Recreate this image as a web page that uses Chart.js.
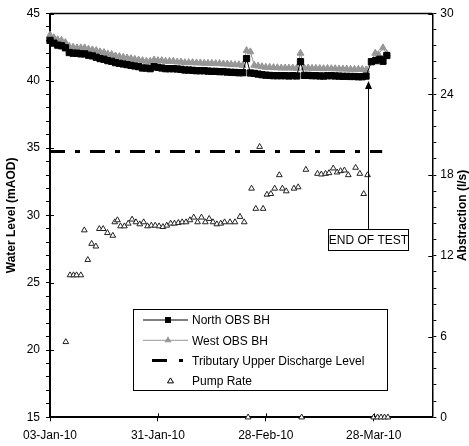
<!DOCTYPE html>
<html>
<head>
<meta charset="utf-8">
<script src="https://cdn.jsdelivr.net/npm/chart.js@4.4.0/dist/chart.umd.min.js"></script>
<style>
  html, body { margin: 0; padding: 0; background: #fff; }
</style>
</head>
<body>
<canvas id="chart" width="469" height="446"></canvas>
<script>
// x values are days since 03-Jan-10
const xTickDays = [0, 28, 56, 84];
const xTickLabels = ['03-Jan-10', '31-Jan-10', '28-Feb-10', '28-Mar-10'];
const levelLabels = [15, 20, 25, 30, 35, 40, 45];
const rateLabels = [0, 6, 12, 18, 24, 30];

// daily readings, day 0 .. day 82
const northLevel = [
  43.0, 42.8, 42.65, 42.6, 42.45, 42.1, 42.05, 42.05, 42.0, 42.0,
  41.9, 41.85, 41.75, 41.65, 41.6, 41.5, 41.45, 41.35, 41.3, 41.25,
  41.2, 41.15, 41.1, 41.05, 40.95, 40.95, 40.9, 41.05, 41.0, 40.95,
  40.9, 40.9, 40.9, 40.88, 40.85, 40.8, 40.8, 40.78, 40.75, 40.75,
  40.75, 40.72, 40.7, 40.7, 40.68, 40.68, 40.65, 40.63, 40.62, 40.6,
  40.6, 41.65, 40.58, 40.55, 40.5, 40.45, 40.42, 40.4, 40.38, 40.38,
  40.38, 40.38, 40.36, 40.38, 40.36, 41.42, 40.4, 40.4, 40.38, 40.38,
  40.36, 40.35, 40.38, 40.38, 40.36, 40.35, 40.33, 40.33, 40.32, 40.32,
  40.3, 40.3, 40.35
];
const westLevel = [
  43.4, 43.2, 43.05, 43.0, 42.85, 42.55, 42.5, 42.45, 42.45, 42.45,
  42.35, 42.3, 42.25, 42.15, 42.1, 42.0, 41.95, 41.85, 41.8, 41.75,
  41.7, 41.65, 41.6, 41.55, 41.5, 41.45, 41.45, 41.55, 41.5, 41.5,
  41.45, 41.45, 41.45, 41.4, 41.4, 41.35, 41.35, 41.35, 41.33, 41.33,
  41.3, 41.3, 41.3, 41.28, 41.28, 41.25, 41.25, 41.22, 41.2, 41.2,
  41.15, 42.25, 42.15, 41.15, 41.1, 41.05, 41.0, 41.0, 40.98, 40.97,
  40.95, 40.95, 40.95, 40.95, 40.93, 42.05, 40.95, 40.95, 40.93, 40.93,
  40.92, 40.9, 40.92, 40.9, 40.9, 40.88, 40.88, 40.87, 40.85, 40.85,
  40.85, 40.85, 40.8
];

// recovery readings after the pump stopped
const northRecoveryDays = [83.4, 84.5, 85.6, 86.4, 87.4];
const northRecovery = [41.42, 41.5, 41.6, 41.45, 41.88];
const westRecoveryDays = [84.4, 85.2, 86.4, 87.4];
const westRecovery = [42.05, 41.95, 42.45, 42.0];

const dischargeDays = [0, 86.2];
const dischargeLevel = 34.75;

const pumpDays = [
  4.1, 5.2, 6.1, 6.9, 8.0, 8.9, 9.8, 10.8, 11.9, 12.8,
  13.8, 14.9, 16.3, 16.8, 17.5, 18.3, 19.3, 20.3, 21.3, 22.3,
  23.3, 24.3, 25.3, 26.3, 27.3, 28.3, 29.3, 30.3, 31.3, 32.3,
  33.3, 34.3, 35.3, 36.3, 37.3, 38.3, 39.3, 40.3, 41.3, 42.3,
  43.3, 44.3, 45.3, 46.7, 48.0, 49.3, 50.4, 51.4, 52.3, 53.4,
  54.4, 55.3, 56.3, 57.3, 58.3, 59.5, 60.3, 61.3, 63.3, 64.4,
  65.3, 66.4, 69.4, 70.4, 71.5, 72.4, 73.5, 74.5, 75.4, 76.4,
  77.4, 79.3, 80.4, 81.4, 82.4, 84.0, 85.0, 85.9, 86.8, 87.7
];
const pumpRate = [
  5.6, 10.56, 10.56, 10.56, 10.56, 13.9, 11.7, 12.9, 12.7, 14.0,
  14.0, 13.7, 13.5, 14.5, 14.65, 14.2, 14.2, 14.4, 14.7, 14.5,
  14.35, 14.5, 14.2, 14.25, 14.25, 14.2, 14.15, 14.25, 14.4, 14.4,
  14.45, 14.5, 14.5, 14.65, 14.85, 14.5, 14.85, 14.5, 14.75, 14.5,
  14.35, 14.4, 14.5, 14.5, 14.5, 14.9, 14.5, 0, 17.0, 15.5,
  20.1, 15.5, 16.55, 16.6, 17.0, 18.0, 17.0, 16.8, 17.0, 17.1,
  0, 18.4, 18.1, 18.05, 18.1, 18.15, 18.5, 18.2, 18.3, 18.35,
  18.0, 18.55, 18.1, 16.6, 18.0, 0, 0, 0, 0, 0
];

const endDay = 82.5;
const endLevel = 40.35;
const endBoxLevel = 29.0;
const endText = 'END OF TEST';

const FONT = 'Liberation Sans, Arial, sans-serif';

function toPoints(days, values) {
  return days.map((d, i) => ({ x: d, y: values[i] }));
}
const dailyDays = northLevel.map((_, i) => i);
const northData = toPoints(dailyDays, northLevel).concat(toPoints(northRecoveryDays, northRecovery));
const westData = toPoints(dailyDays, westLevel).concat(toPoints(westRecoveryDays, westRecovery));
const dischargeData = dischargeDays.map(d => ({ x: d, y: dischargeLevel }));
const pumpData = toPoints(pumpDays, pumpRate);

const levelTicks = [];
for (let v = 15; v <= 45; v++) levelTicks.push(v);
const rateTicks = [];
for (let i = 0; i <= 25; i++) rateTicks.push(Math.round(i * 12) / 10);

const legendItems = [
  { label: 'North OBS BH', kind: 'north' },
  { label: 'West OBS BH', kind: 'west' },
  { label: 'Tributary Upper Discharge Level', kind: 'dash' },
  { label: 'Pump Rate', kind: 'pump' }
];

const decorations = {
  id: 'decorations',
  afterDraw(chart) {
    const { ctx, chartArea: a, scales } = chart;
    ctx.save();

    // top frame
    ctx.strokeStyle = '#000';
    ctx.lineWidth = 1.5;
    ctx.beginPath();
    ctx.moveTo(a.left, a.top);
    ctx.lineTo(a.right, a.top);
    ctx.stroke();

    // major ticks also cross into the plot
    ctx.lineWidth = 1;
    ctx.beginPath();
    xTickDays.forEach(d => {
      const px = Math.round(scales.x.getPixelForValue(d)) + 0.5;
      ctx.moveTo(px, a.bottom);
      ctx.lineTo(px, a.bottom - 4);
    });
    levelLabels.forEach(v => {
      const py = Math.round(scales.y.getPixelForValue(v)) + 0.5;
      ctx.moveTo(a.left, py);
      ctx.lineTo(a.left + 4, py);
    });
    rateLabels.forEach(v => {
      const py = Math.round(scales.y2.getPixelForValue(v)) + 0.5;
      ctx.moveTo(a.right, py);
      ctx.lineTo(a.right - 4, py);
    });
    ctx.stroke();

    // end of test arrow and box
    const ax = Math.round(scales.x.getPixelForValue(endDay)) + 0.5;
    const tipY = scales.y.getPixelForValue(endLevel) + 5;
    const boxTop = scales.y.getPixelForValue(endBoxLevel);
    ctx.lineWidth = 1;
    ctx.beginPath();
    ctx.moveTo(ax, boxTop);
    ctx.lineTo(ax, tipY + 6);
    ctx.stroke();
    ctx.fillStyle = '#000';
    ctx.beginPath();
    ctx.moveTo(ax, tipY);
    ctx.lineTo(ax - 3.5, tipY + 8);
    ctx.lineTo(ax + 3.5, tipY + 8);
    ctx.closePath();
    ctx.fill();
    ctx.font = '12px ' + FONT;
    const bw = 80, bh = 21;
    const bx = Math.round(ax - bw / 2 - 1) + 0.5;
    const by = Math.round(boxTop) + 0.5;
    ctx.fillStyle = '#fff';
    ctx.fillRect(bx, by, bw, bh);
    ctx.strokeRect(bx, by, bw, bh);
    ctx.fillStyle = '#000';
    ctx.textAlign = 'center';
    ctx.textBaseline = 'middle';
    ctx.fillText(endText, bx + bw / 2, by + bh / 2 + 1);

    // legend
    const lx = 133.5, ly = 309.5, lw = 254, lh = 81;
    ctx.fillStyle = '#fff';
    ctx.fillRect(lx, ly, lw, lh);
    ctx.strokeStyle = '#000';
    ctx.lineWidth = 1;
    ctx.strokeRect(lx, ly, lw, lh);
    ctx.textAlign = 'left';
    legendItems.forEach((it, i) => {
      const y = 320 + i * 20.3;
      const x0 = 143, x1 = 188, xc = 168;
      if (it.kind === 'north' || it.kind === 'west') {
        const col = it.kind === 'north' ? '#000' : '#969696';
        ctx.strokeStyle = col;
        ctx.lineWidth = 1;
        ctx.beginPath();
        ctx.moveTo(x0, y);
        ctx.lineTo(x1, y);
        ctx.stroke();
        ctx.fillStyle = col;
        if (it.kind === 'north') {
          ctx.fillRect(xc - 3, y - 3, 6, 6);
        } else {
          ctx.beginPath();
          ctx.moveTo(xc, y - 4);
          ctx.lineTo(xc + 3.5, y + 2);
          ctx.lineTo(xc - 3.5, y + 2);
          ctx.closePath();
          ctx.fill();
        }
      } else if (it.kind === 'dash') {
        ctx.strokeStyle = '#000';
        ctx.lineWidth = 3;
        ctx.beginPath();
        ctx.moveTo(152, y);
        ctx.lineTo(167, y);
        ctx.moveTo(179, y);
        ctx.lineTo(183, y);
        ctx.stroke();
      } else {
        ctx.strokeStyle = '#000';
        ctx.lineWidth = 1;
        ctx.fillStyle = '#fff';
        ctx.beginPath();
        ctx.moveTo(xc + 2.5, y - 3);
        ctx.lineTo(xc + 5.5, y + 2);
        ctx.lineTo(xc - 0.5, y + 2);
        ctx.closePath();
        ctx.fill();
        ctx.stroke();
      }
      ctx.fillStyle = '#000';
      ctx.font = '12px ' + FONT;
      ctx.fillText(it.label, 192, y + 1);
    });

    // axis titles
    ctx.font = 'bold 12px ' + FONT;
    ctx.textAlign = 'center';
    ctx.textBaseline = 'middle';
    const midY = (a.top + a.bottom) / 2;
    ctx.translate(12, midY);
    ctx.rotate(-Math.PI / 2);
    ctx.fillText('Water Level (mAOD)', 0, 0);
    ctx.setTransform(1, 0, 0, 1, 0, 0);
    ctx.translate(463, midY);
    ctx.rotate(-Math.PI / 2);
    ctx.fillText('Abstraction (l/s)', 0, 0);
    ctx.restore();
  }
};

const tickFont = { family: FONT, size: 12 };

new Chart(document.getElementById('chart'), {
  type: 'line',
  data: {
    datasets: [
      {
        label: 'North OBS BH', data: northData, yAxisID: 'y',
        borderColor: '#000', borderWidth: 1,
        pointStyle: 'rect', pointRadius: 4.4, pointBackgroundColor: '#000', pointBorderColor: '#000',
        clip: false
      },
      {
        label: 'West OBS BH', data: westData, yAxisID: 'y',
        borderColor: '#969696', borderWidth: 1,
        pointStyle: 'triangle', pointRadius: 4, pointBackgroundColor: '#969696', pointBorderColor: '#969696',
        clip: false
      },
      {
        label: 'Pump Rate', data: pumpData, yAxisID: 'y2', showLine: false,
        pointStyle: 'triangle', pointRadius: 3.3, pointBackgroundColor: '#fff',
        pointBorderColor: '#222', pointBorderWidth: 1,
        clip: false
      },
      {
        label: 'Tributary Upper Discharge Level', data: dischargeData, yAxisID: 'y',
        borderColor: '#000', borderWidth: 3, borderDash: [15, 10, 5, 10],
        pointRadius: 0
      }
    ]
  },
  options: {
    responsive: false,
    devicePixelRatio: 1,
    animation: false,
    layout: { padding: { top: 13.5, left: 0, right: 0, bottom: 0 } },
    plugins: { legend: { display: false }, tooltip: { enabled: false } },
    scales: {
      x: {
        type: 'linear', position: 'bottom', min: 0, max: 99.2,
        afterBuildTicks: s => { s.ticks = xTickDays.map(v => ({ value: v })); },
        afterFit: s => { s.height = 28.7; },
        ticks: {
          autoSkip: false, maxRotation: 0, color: '#000', font: tickFont, padding: 7,
          callback: v => xTickLabels[xTickDays.indexOf(v)]
        },
        grid: { drawOnChartArea: false, tickLength: 4, color: '#000' },
        border: { color: '#000', width: 2 }
      },
      y: {
        type: 'linear', position: 'left', min: 15, max: 45,
        afterBuildTicks: s => { s.ticks = levelTicks.map(v => ({ value: v })); },
        afterFit: s => { s.width = 50; },
        ticks: {
          autoSkip: false, color: '#000', font: tickFont, padding: 6,
          callback: v => levelLabels.includes(v) ? String(v) : ''
        },
        grid: { drawOnChartArea: false, tickLength: 4, color: '#000' },
        border: { color: '#000', width: 2 }
      },
      y2: {
        type: 'linear', position: 'right', min: 0, max: 30,
        afterBuildTicks: s => { s.ticks = rateTicks.map(v => ({ value: v })); },
        afterFit: s => { s.width = 36.7; },
        ticks: {
          autoSkip: false, color: '#000', font: tickFont, padding: 4,
          callback: v => rateLabels.includes(v) ? String(v) : ''
        },
        grid: { drawOnChartArea: false, tickLength: 4, color: '#000' },
        border: { color: '#000', width: 1.5 }
      }
    }
  },
  plugins: [decorations]
});
</script>
</body>
</html>
